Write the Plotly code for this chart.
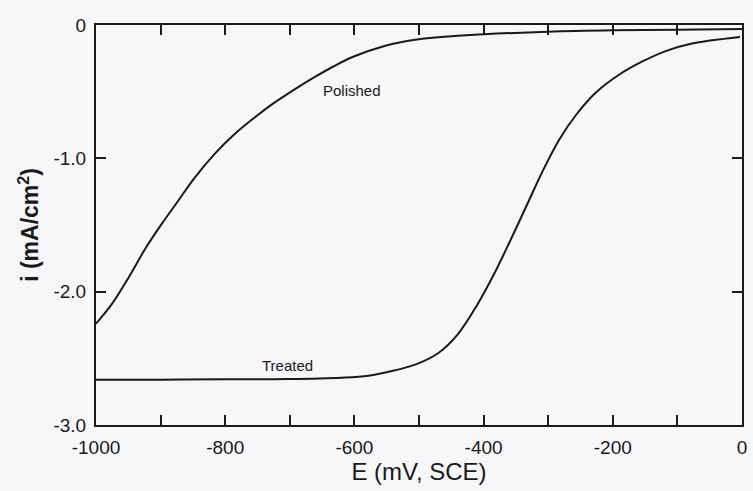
import plotly.graph_objects as go

# Polished electrode
polished_E = [-1000, -975, -949, -924, -898, -873, -848, -817, -787, -756, -726, -695, -665, -634, -603, -552, -506, -450, -400, -300, -200, -100, 0]
polished_i = [-2.24, -2.09, -1.89, -1.68, -1.49, -1.32, -1.15, -0.97, -0.825, -0.70, -0.59, -0.49, -0.40, -0.315, -0.24, -0.155, -0.11, -0.085, -0.07, -0.05, -0.04, -0.035, -0.03]

# Treated electrode
treated_E = [-1000, -900, -800, -704, -620, -578, -537, -502, -470, -440, -410, -384, -359, -333, -308, -283, -257, -227, -191, -155, -115, -79, -3]
treated_i = [-2.66, -2.66, -2.657, -2.655, -2.645, -2.63, -2.59, -2.54, -2.46, -2.32, -2.1, -1.87, -1.62, -1.35, -1.09, -0.86, -0.675, -0.51, -0.375, -0.275, -0.19, -0.14, -0.09]

x_ticks = [-1000, -900, -800, -700, -600, -500, -400, -300, -200, -100, 0]
x_labels = ["-1000", "", "-800", "", "-600", "", "-400", "", "-200", "", "0"]
y_ticks = [0, -1, -2, -3]
y_labels = ["0", "-1.0", "-2.0", "-3.0"]

FONT = "Liberation Sans, Arial, sans-serif"
INK = "#1a1a1a"

fig = go.Figure()
fig.add_trace(go.Scatter(x=polished_E, y=polished_i, mode="lines", name="Polished",
                         line=dict(color=INK, width=2, shape="spline", smoothing=1.0)))
fig.add_trace(go.Scatter(x=treated_E, y=treated_i, mode="lines", name="Treated",
                         line=dict(color=INK, width=2, shape="spline", smoothing=1.0)))

fig.add_annotation(x=-603, y=-0.49, text="Polished", showarrow=False,
                   font=dict(family=FONT, size=15, color=INK))
fig.add_annotation(x=-704, y=-2.55, text="Treated", showarrow=False,
                   font=dict(family=FONT, size=15, color=INK))

fig.update_layout(
    width=753, height=491,
    margin=dict(l=96, r=6, t=25, b=66),
    paper_bgcolor="#f7f6f8", plot_bgcolor="#f7f6f8",
    showlegend=False,
    font=dict(family=FONT, color=INK),
)
fig.update_xaxes(range=[-1000, 0], tickvals=x_ticks, ticktext=x_labels,
                 ticks="inside", ticklen=10, tickwidth=2, tickcolor=INK,
                 showline=True, linecolor=INK, linewidth=2, mirror="ticks",
                 showgrid=False, zeroline=False,
                 tickfont=dict(size=19, family=FONT, color=INK),
                 ticklabelstandoff=4,
                 title=dict(text="E (mV, SCE)", font=dict(size=24, family=FONT, color=INK), standoff=4))
fig.update_yaxes(range=[-3, 0], tickvals=y_ticks, ticktext=y_labels,
                 ticks="inside", ticklen=10, tickwidth=2, tickcolor=INK,
                 showline=True, linecolor=INK, linewidth=2, mirror="ticks",
                 showgrid=False, zeroline=False,
                 tickfont=dict(size=19, family=FONT, color=INK),
                 ticklabelstandoff=4,
                 title=dict(text="<b>i (mA/cm<sup>2</sup>)</b>", font=dict(size=23, family=FONT, color=INK), standoff=8))

fig.write_html("out.html")
